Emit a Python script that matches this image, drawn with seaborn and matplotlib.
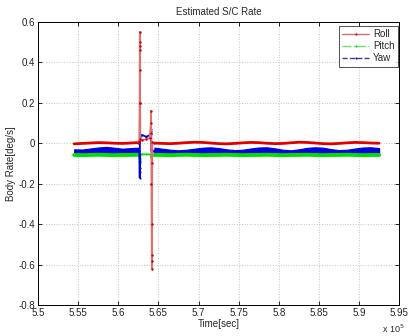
import matplotlib
matplotlib.use("Agg")
import matplotlib.pyplot as plt
import seaborn as sns
import pandas as pd
from matplotlib.lines import Line2D
from matplotlib.ticker import FuncFormatter, FixedLocator

# ---------------- data ----------------
# regular sample times (s) before and after the manoeuvre
t_before = [554500, 555500, 556500, 557500, 558500, 559500, 560500, 561500, 562500]
t_after = [564500, 565500, 566500, 567500, 568500, 569500, 570500, 571500, 572500,
           573500, 574500, 575500, 576500, 577500, 578500, 579500, 580500, 581500,
           582500, 583500, 584500, 585500, 586500, 587500, 588500, 589500, 590500,
           591500, 592500]

roll_before = [-0.003, -0.001, 0.001, 0.003, 0.002, 0.0, -0.001, 0.001, 0.003]
roll_after = [0.001, -0.001, -0.002, 0.0, 0.003, 0.005, 0.004, 0.001, -0.002, -0.003,
              -0.001, 0.002, 0.004, 0.003, 0.0, -0.002, -0.001, 0.002, 0.005, 0.004,
              0.001, -0.002, -0.003, -0.001, 0.002, 0.004, 0.003, 0.001, 0.0]

pitch_before = [-0.058, -0.059, -0.058, -0.057, -0.058, -0.059, -0.058, -0.058, -0.057]
pitch_after = [-0.058, -0.058, -0.059, -0.058, -0.057, -0.058, -0.059, -0.058, -0.058,
               -0.057, -0.058, -0.059, -0.058, -0.058, -0.057, -0.058, -0.059, -0.058,
               -0.058, -0.057, -0.058, -0.059, -0.058, -0.058, -0.057, -0.058, -0.059,
               -0.058, -0.058]

yaw_hi_before = [-0.030, -0.031, -0.026, -0.021, -0.018, -0.022, -0.027, -0.024, -0.022]
yaw_lo_before = [-0.054, -0.055, -0.054, -0.054, -0.055, -0.054, -0.055, -0.054, -0.054]
yaw_hi_after = [-0.022, -0.027, -0.032, -0.035, -0.032, -0.027, -0.022, -0.020, -0.024,
                -0.030, -0.034, -0.032, -0.026, -0.021, -0.020, -0.025, -0.032, -0.035,
                -0.030, -0.023, -0.020, -0.022, -0.029, -0.034, -0.032, -0.026, -0.021,
                -0.020, -0.024]
yaw_lo_after = [-0.054, -0.055, -0.055, -0.054, -0.055, -0.054, -0.054, -0.055, -0.054,
                -0.055, -0.054, -0.055, -0.054, -0.054, -0.055, -0.054, -0.055, -0.054,
                -0.054, -0.055, -0.054, -0.055, -0.054, -0.054, -0.055, -0.054, -0.055,
                -0.054, -0.054]

# manoeuvre segment (s)
t_man = [562500, 562600, 562650, 562660, 562670, 562680, 562700, 562710, 562730,
         562760, 563000, 563500, 563900, 564050, 564080, 564100, 564120, 564140,
         564160, 564180, 564200, 564230, 564260, 564500]
roll_man = [0.003, 0.01, 0.20, 0.36, 0.50, 0.55, 0.48, 0.46, 0.20,
            0.02, 0.015, 0.02, 0.025, 0.10, 0.16, 0.05, -0.20, -0.40,
            -0.55, -0.62, -0.58, -0.10, 0.005, 0.001]
pitch_man = [-0.057, -0.058, -0.075, -0.095, -0.100, -0.080, -0.060, -0.055, -0.055,
             -0.055, -0.055, -0.055, -0.055, -0.058, -0.065, -0.070, -0.062, -0.058,
             -0.058, -0.058, -0.058, -0.058, -0.058, -0.058]
yaw_man = [-0.038, -0.040, -0.090, -0.140, -0.170, -0.120, 0.030, 0.035, 0.038,
           0.040, 0.040, 0.032, 0.040, 0.048, 0.070, 0.060, -0.030, -0.040,
           -0.038, -0.036, -0.038, -0.038, -0.036, -0.038]

labels = ["Roll", "Pitch", "Yaw"]
colors = ["#e00000", "#00e000", "#0000e0"]
x_ticks = [550000, 555000, 560000, 565000, 570000, 575000, 580000, 585000, 590000, 595000]
y_ticks = [-0.8, -0.6, -0.4, -0.2, 0.0, 0.2, 0.4, 0.6]

# ---------------- plot ----------------
sns.set_style("white")
plt.rcParams["font.family"] = ["Liberation Sans", "DejaVu Sans"]

fig = plt.figure(figsize=(4.09, 3.36), dpi=100)
ax = fig.add_axes([0.093, 0.092, 0.883, 0.843])

# yaw noise band
ax.fill_between(t_before, yaw_lo_before, yaw_hi_before, color=colors[2], lw=0.8, edgecolor=colors[2])
ax.fill_between(t_after, yaw_lo_after, yaw_hi_after, color=colors[2], lw=0.8, edgecolor=colors[2])

# pitch band
for tt, vv in [(t_before, pitch_before), (t_after, pitch_after)]:
    sns.lineplot(x=tt, y=vv, ax=ax, color=colors[1], lw=2.8, sort=False, legend=False)
sns.lineplot(x=t_man, y=pitch_man, ax=ax, color=colors[1], lw=1.2, sort=False,
             marker=".", markersize=3, markeredgewidth=0, legend=False)

# yaw manoeuvre
sns.lineplot(x=t_man, y=yaw_man, ax=ax, color=colors[2], lw=1.3, sort=False,
             marker=".", markersize=3, markeredgewidth=0, legend=False)

# roll
for tt, vv in [(t_before, roll_before), (t_after, roll_after)]:
    sns.lineplot(x=tt, y=vv, ax=ax, color=colors[0], lw=2.0, sort=False, legend=False)
sns.lineplot(x=t_man, y=roll_man, ax=ax, color="#e07070", lw=1.2, sort=False,
             marker=".", markersize=3.5, markeredgewidth=0, markerfacecolor="#d00000",
             legend=False)

ax.set_xlim(550000, 595000)
ax.set_ylim(-0.8, 0.6)
ax.xaxis.set_major_locator(FixedLocator(x_ticks))
ax.yaxis.set_major_locator(FixedLocator(y_ticks))
ax.xaxis.set_major_formatter(FuncFormatter(lambda v, p: f"{v / 1e5:g}"))
ax.yaxis.set_major_formatter(FuncFormatter(lambda v, p: "0" if abs(v) < 1e-9 else f"{v:g}"))

ax.grid(True, color="#c4c4c4", linestyle=":", linewidth=0.7)
for s in ax.spines.values():
    s.set_color("black")
    s.set_linewidth(0.7)
ax.tick_params(direction="in", length=3, width=0.6, labelsize=7, colors="black",
               top=True, right=True, bottom=True, left=True, pad=2)
for lbl in ax.get_xticklabels() + ax.get_yticklabels():
    lbl.set_color("#222222")

ax.set_title("Estimated S/C Rate", fontsize=7, pad=5)
ax.set_xlabel("Time[sec]", fontsize=7, labelpad=1)
ax.set_ylabel("Body Rate[deg/s]", fontsize=7, labelpad=2)
fig.text(0.962, 0.003, r"x 10$^5$", fontsize=6.5, ha="center", va="bottom")

handles = [
    Line2D([], [], color="#d07070", lw=1.0, ls="-", marker=".", markersize=3, markerfacecolor="#d00000", markeredgewidth=0),
    Line2D([], [], color="#70e070", lw=1.0, ls="-.", marker=".", markersize=3, markerfacecolor="#00c000", markeredgewidth=0),
    Line2D([], [], color="#404080", lw=1.0, ls="--", marker=".", markersize=3, markerfacecolor="#0000c0", markeredgewidth=0),
]
leg = ax.legend(handles, labels, loc="upper right", bbox_to_anchor=(0.997, 0.985),
                fontsize=7, frameon=True, fancybox=False,
                borderaxespad=0.0, handlelength=2.8, handletextpad=0.4, labelspacing=0.2,
                borderpad=0.35)
leg.get_frame().set_edgecolor("black")
leg.get_frame().set_linewidth(0.6)

fig.savefig("out.png", dpi=100, facecolor="white")
